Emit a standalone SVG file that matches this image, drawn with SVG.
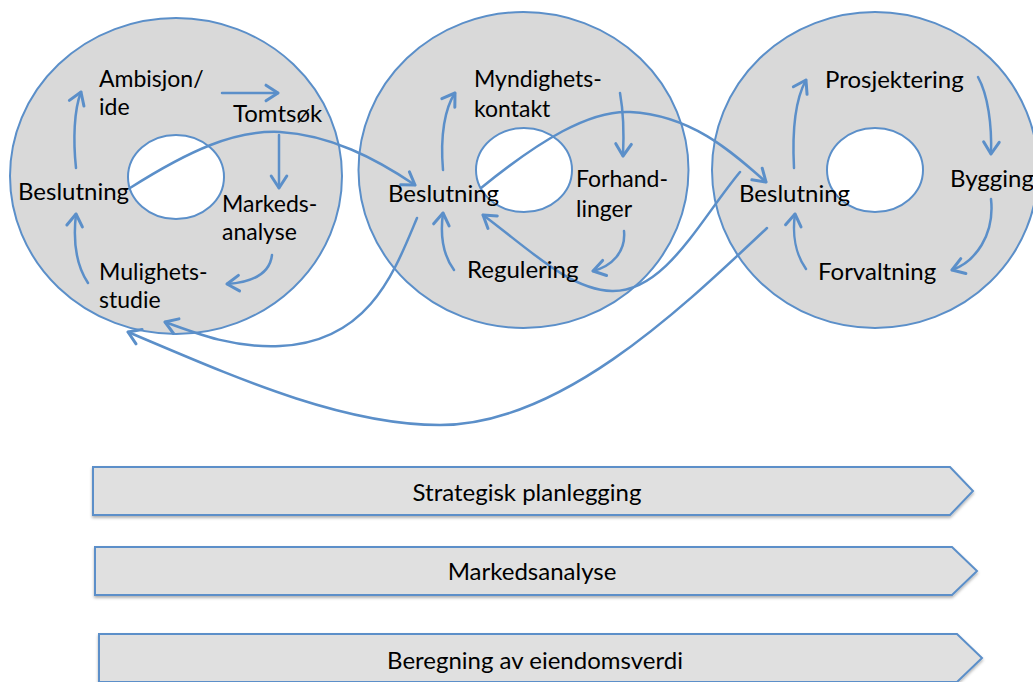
<svg xmlns="http://www.w3.org/2000/svg" width="1033" height="682" viewBox="0 0 1033 682">
<style>
.ring{fill:#d9d9d9;stroke:#5b8fc9;stroke-width:2}
.hole{fill:#ffffff;stroke:#5b8fc9;stroke-width:2}
.con{fill:none;stroke:#5b8fc9;stroke-width:2.5;stroke-linecap:round;marker-end:url(#arr)}
.bar{fill:#e0e0e0;stroke:#5b8fc9;stroke-width:2;filter:url(#sh)}
text{font-family:Lato,"Open Sans","Liberation Sans",sans-serif;font-size:23px;fill:#000}
.s{font-size:24px}
.c{text-anchor:middle;font-size:24px}
</style>
<defs>
<marker id="arr" markerUnits="userSpaceOnUse" markerWidth="24" markerHeight="24" viewBox="-14 -10 18 20" refX="0" refY="0" orient="auto">
<path d="M-10,-6.5 L0,0 L-10,6.5" fill="none" stroke="#5b8fc9" stroke-width="2.5" stroke-linecap="round" stroke-linejoin="round"/>
</marker>
<filter id="sh" x="-5%" y="-20%" width="110%" height="160%">
<feDropShadow dx="0" dy="2" stdDeviation="1.5" flood-color="#000" flood-opacity="0.3"/>
</filter>
</defs>

<g id="cycle1">
<ellipse class="ring" cx="176" cy="176" rx="166" ry="158"/>
<ellipse class="hole" cx="176" cy="177" rx="48" ry="42"/>
</g>
<g id="cycle2">
<ellipse class="ring" cx="523.5" cy="170" rx="165" ry="158"/>
<ellipse class="hole" cx="524" cy="170" rx="48" ry="42"/>
</g>
<g id="cycle3">
<ellipse class="ring" cx="875" cy="170" rx="163" ry="158"/>
<ellipse class="hole" cx="875" cy="170" rx="48" ry="42"/>
</g>

<g id="connectors">
<path class="con" d="M76,168 C73,140 74,110 81,92"/>
<path class="con" d="M222,93 L278,93"/>
<path class="con" d="M279,135 L279,188"/>
<path class="con" d="M272,255 C270,272 255,282 227,284"/>
<path class="con" d="M88,283 C76,265 73,240 76,214"/>

<path class="con" d="M443,170 C440,135 445,108 455,93"/>
<path class="con" d="M620,93 C624,115 624,135 623,156"/>
<path class="con" d="M624,231 C626,252 612,266 593,271"/>
<path class="con" d="M454,270 C443,255 440,235 443,213"/>

<path class="con" d="M794,168 C792,130 795,100 806,80"/>
<path class="con" d="M978,77 C988,95 992,125 991,154"/>
<path class="con" d="M991,199 C995,235 975,262 952,270"/>
<path class="con" d="M806,269 C796,255 792,235 795,214"/>

<path class="con" d="M130,188 C190,150 235,130 280,132 C330,135 375,158 415,185"/>
<path class="con" d="M481,188 C540,140 590,110 630,112 C690,115 730,150 766,182"/>
<path class="con" d="M740,172 C700,220 665,292 612,291 C570,290 530,250 483,215"/>
<path class="con" d="M417,218 C395,270 370,342 280,346 C235,348 200,335 165,322"/>
<path class="con" d="M767,228 C680,310 560,425 440,425 C340,425 230,375 128,332"/>
</g>

<g id="labels1">
<text x="99" y="87">Ambisjon/</text>
<text x="99" y="115">ide</text>
<text class="s" x="233" y="122">Tomtsøk</text>
<text class="s" x="18" y="200">Beslutning</text>
<text x="222" y="212">Markeds-</text>
<text x="222" y="240">analyse</text>
<text x="99" y="280">Mulighets-</text>
<text x="99" y="308">studie</text>
</g>
<g id="labels2">
<text x="474" y="87">Myndighets-</text>
<text x="474" y="117">kontakt</text>
<text class="s" x="388" y="202">Beslutning</text>
<text x="576" y="187">Forhand-</text>
<text x="576" y="217">linger</text>
<text class="s" x="467" y="278">Regulering</text>
</g>
<g id="labels3">
<text class="s" x="825" y="88">Prosjektering</text>
<text class="s" x="950" y="187">Bygging</text>
<text class="s" x="739" y="202">Beslutning</text>
<text class="s" x="818" y="280">Forvaltning</text>
</g>

<g id="bar1">
<polygon class="bar" points="93,467 950,467 973,491 950,515 93,515"/>
<text class="c" x="527" y="501">Strategisk planlegging</text>
</g>
<g id="bar2">
<polygon class="bar" points="95,547 952,547 977,571 952,595 95,595"/>
<text class="c" x="532" y="580">Markedsanalyse</text>
</g>
<g id="bar3">
<polygon class="bar" points="99,634 957,634 982,658 957,682 99,682"/>
<text class="c" x="535" y="669">Beregning av eiendomsverdi</text>
</g>
</svg>
